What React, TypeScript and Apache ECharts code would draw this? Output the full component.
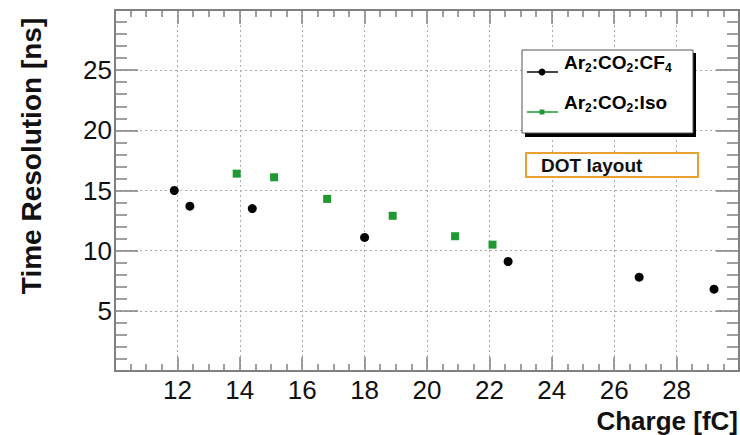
import React, { useEffect, useRef } from "react";
import * as echarts from "echarts";

const cf4Charge = [11.9, 12.4, 14.4, 18.0, 22.6, 26.8, 29.2];
const cf4Res = [15.0, 13.7, 13.5, 11.1, 9.1, 7.8, 6.8];
const isoCharge = [13.9, 15.1, 16.8, 18.9, 20.9, 22.1];
const isoRes = [16.4, 16.1, 14.3, 12.9, 11.2, 10.5];

const xTitle = "Charge [fC]";
const yTitle = "Time Resolution [ns]";
const cf4Name = "Ar2:CO2:CF4";
const isoName = "Ar2:CO2:Iso";
const layoutLabel = "DOT layout";

const FONT = "Liberation Sans, Arial, Helvetica, sans-serif";
const FRAME = "#808080";
const GREEN = "#1f9a33";

export default function App() {
  const ref = useRef<HTMLDivElement>(null);
  useEffect(() => {
    if (!ref.current) return;
    const chart = echarts.init(ref.current, null, { renderer: "svg" });
    const tickStyle = { color: FRAME, width: 1.5 };
    const xBase = {
      type: "value",
      min: 10,
      max: 30,
      interval: 2,
      axisLine: { show: true, onZero: false, lineStyle: { color: FRAME, width: 2 } },
      axisTick: { show: true, inside: true, length: 14, lineStyle: tickStyle },
      minorTick: { show: true, splitNumber: 4, length: 7, lineStyle: tickStyle },
    };
    const yBase = {
      type: "value",
      min: 0,
      max: 30,
      interval: 5,
      axisLine: { show: true, onZero: false, lineStyle: { color: FRAME, width: 2 } },
      axisTick: { show: true, inside: true, length: 23, lineStyle: tickStyle },
      minorTick: { show: true, splitNumber: 5, length: 12, lineStyle: tickStyle },
    };
    const labelStyle = { fontSize: 26, fontFamily: FONT, color: "#111" };
    const rich = {
      a: { fontSize: 19, fontWeight: "bold", fontFamily: FONT, color: "#111", lineHeight: 24, verticalAlign: "middle" },
      s: { fontSize: 12, fontWeight: "bold", fontFamily: FONT, color: "#111", lineHeight: 11, verticalAlign: "bottom" },
    };
    const richText = (name: string) =>
      name.replace(/(\d)/g, "}{s|$1}{a|").replace(/^/, "{a|").replace(/$/, "}").replace(/\{a\|\}/g, "");
    chart.setOption({
      animation: false,
      grid: { left: 115, top: 10, right: 1, bottom: 64, containLabel: false },
      xAxis: [
        {
          ...xBase,
          position: "bottom",
          splitLine: { show: true, lineStyle: { color: "#aaa", type: [2, 3], width: 1 } },
          axisLabel: { ...labelStyle, showMinLabel: false, showMaxLabel: false, margin: 6 },
        },
        { ...xBase, position: "top", splitLine: { show: false }, axisLabel: { show: false } },
      ],
      yAxis: [
        {
          ...yBase,
          position: "left",
          splitLine: { show: true, lineStyle: { color: "#aaa", type: [2, 3], width: 1 } },
          axisLabel: { ...labelStyle, showMinLabel: false, showMaxLabel: false, margin: 3 },
        },
        { ...yBase, position: "right", splitLine: { show: false }, axisLabel: { show: false } },
      ],
      series: [
        {
          type: "scatter",
          name: cf4Name,
          xAxisIndex: 0,
          yAxisIndex: 0,
          symbol: "circle",
          symbolSize: 9,
          itemStyle: { color: "#000", opacity: 1 },
          data: cf4Charge.map((c, i) => [c, cf4Res[i]]),
        },
        {
          type: "scatter",
          name: isoName,
          xAxisIndex: 0,
          yAxisIndex: 0,
          symbol: "rect",
          symbolSize: 8,
          itemStyle: { color: GREEN, opacity: 1 },
          data: isoCharge.map((c, i) => [c, isoRes[i]]),
        },
      ],
      graphic: [
        { type: "rect", z: 100, shape: { x: 525, y: 53, width: 171, height: 84 }, style: { fill: "#000" } },
        { type: "rect", z: 101, shape: { x: 522, y: 50, width: 171, height: 83 }, style: { fill: "#fff", stroke: "#555", lineWidth: 1 } },
        { type: "line", z: 102, shape: { x1: 527, y1: 72, x2: 558, y2: 72 }, style: { stroke: "#444", lineWidth: 2 } },
        { type: "circle", z: 103, shape: { cx: 542, cy: 72, r: 3.5 }, style: { fill: "#000" } },
        { type: "line", z: 102, shape: { x1: 527, y1: 112, x2: 558, y2: 112 }, style: { stroke: GREEN, lineWidth: 1.5 } },
        { type: "rect", z: 103, shape: { x: 539.5, y: 109.5, width: 5, height: 5 }, style: { fill: GREEN } },
        { type: "text", z: 104, x: 564, y: 62, style: { text: richText(cf4Name), rich, verticalAlign: "middle", align: "left" } },
        { type: "text", z: 104, x: 564, y: 102, style: { text: richText(isoName), rich, verticalAlign: "middle", align: "left" } },
        { type: "rect", z: 101, shape: { x: 526, y: 153, width: 172, height: 24 }, style: { fill: "#fff", stroke: "#e9a035", lineWidth: 2 } },
        {
          type: "text",
          z: 104,
          x: 541,
          y: 165,
          style: { text: layoutLabel, font: `bold 19px ${FONT}`, fill: "#111", verticalAlign: "middle", align: "left" },
        },
        {
          type: "text",
          z: 104,
          x: 31,
          y: 156,
          rotation: Math.PI / 2,
          style: { text: yTitle, font: `bold 28px ${FONT}`, fill: "#111", verticalAlign: "middle", align: "center" },
        },
        {
          type: "text",
          z: 104,
          x: 738,
          y: 421,
          style: { text: xTitle, font: `bold 26px ${FONT}`, fill: "#111", verticalAlign: "middle", align: "right" },
        },
      ],
    });
    return () => chart.dispose();
  }, []);
  return <div ref={ref} style={{ position: "fixed", left: 0, top: 0, width: 740, height: 435, background: "#fff" }} />;
}
